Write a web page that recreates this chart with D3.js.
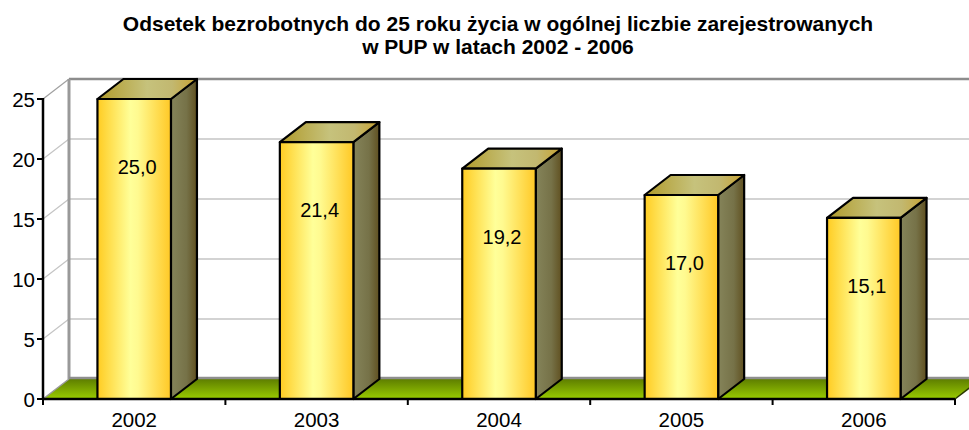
<!DOCTYPE html>
<html>
<head>
<meta charset="utf-8">
<script src="https://cdn.jsdelivr.net/npm/d3@7"></script>
<style>
  html, body { margin: 0; padding: 0; background: #fff; }
  svg { display: block; font-family: "Liberation Sans", Arial, sans-serif; }
</style>
</head>
<body>
<svg id="chart" width="969" height="430"></svg>
<script>
// ---- data ----
const titleLines = ["Odsetek bezrobotnych do 25 roku życia w ogólnej liczbie zarejestrowanych", "w PUP w latach 2002 - 2006"];
const categories = ["2002", "2003", "2004", "2005", "2006"];
const values = [25.0, 21.4, 19.2, 17.0, 15.1];
const yTicks = [0, 5, 10, 15, 20, 25];

// ---- layout ----
const W = 969, H = 430;
const mLeft = 43, mRight = 955, mBottom = 399, mTop = 99;
const dx = 26, dy = -20;

const svg = d3.select("#chart");
const defs = svg.append("defs");

const x = d3.scaleBand().domain(categories).range([mLeft, mRight]).paddingInner(0.597).paddingOuter(0.2985);
const step = (mRight - mLeft) / categories.length;
const y = d3.scaleLinear().domain([0, 25]).range([mBottom, mTop]);

// gradients
function hGrad(id, stops) {
  const g = defs.append("linearGradient").attr("id", id).attr("x1", "0").attr("x2", "1").attr("y1", "0").attr("y2", "0");
  stops.forEach(s => g.append("stop").attr("offset", s[0]).attr("stop-color", s[1]));
}
hGrad("front", [[0, "#FFCC22"], [0.45, "#FFFF99"], [0.55, "#FFFA90"], [1, "#FFC825"]]);
hGrad("topf", [[0, "#B09A2A"], [0.5, "#C6C27C"], [0.75, "#C2B870"], [1, "#C8A230"]]);
hGrad("side", [[0, "#85845A"], [0.6, "#767248"], [1, "#605020"]]);
const fg = defs.append("linearGradient").attr("id", "floor").attr("x1", "0").attr("x2", "0").attr("y1", "0").attr("y2", "1");
fg.append("stop").attr("offset", 0).attr("stop-color", "#5E7E00");
fg.append("stop").attr("offset", 1).attr("stop-color", "#9ACC00");

const line = d3.line();

// back wall gridlines + left wall diagonals
const grid = svg.append("g");
yTicks.filter(t => t > 0).forEach(t => {
  const yy = y(t);
  const col = t === 25 ? "#8C8C8C" : "#C4C4C4";
  const sw = t === 25 ? 2.5 : 1.6;
  grid.append("path").attr("d", line([[mLeft + dx, yy + dy], [W + 40, yy + dy]]))
    .attr("stroke", col).attr("stroke-width", sw).attr("fill", "none");
  grid.append("path").attr("d", line([[mLeft, yy], [mLeft + dx, yy + dy]]))
    .attr("stroke", t === 25 ? "#A0A0A0" : "#C4C4C4").attr("stroke-width", 1.2).attr("fill", "none");
});
// back wall left edge
grid.append("path").attr("d", line([[mLeft + dx, y(25) + dy], [mLeft + dx, y(0) + dy]]))
  .attr("stroke", "#999999").attr("stroke-width", 3).attr("fill", "none");

// floor
svg.append("path")
  .attr("d", line([[mLeft, y(0)], [mRight, y(0)], [mRight + dx, y(0) + dy], [mLeft + dx, y(0) + dy]]) + "Z")
  .attr("fill", "url(#floor)").attr("stroke", "none");
svg.append("path").attr("d", line([[mLeft + dx, y(0) + dy - 1], [W + 40, y(0) + dy - 1]]))
  .attr("stroke", "#8E8E8E").attr("stroke-width", 2.5).attr("fill", "none");
svg.append("path").attr("d", line([[mRight, y(0)], [mRight + dx, y(0) + dy]]))
  .attr("stroke", "#2A3A00").attr("stroke-width", 1.5).attr("fill", "none");
svg.append("path").attr("d", line([[mLeft, y(0)], [mLeft + dx, y(0) + dy]]))
  .attr("stroke", "#9A9A9A").attr("stroke-width", 1.5).attr("fill", "none");

// bars
const bars = svg.append("g").attr("stroke", "#000").attr("stroke-width", 2.2).attr("stroke-linejoin", "round");
categories.forEach((c, i) => {
  const x0 = x(c), x1 = x(c) + x.bandwidth();
  const yt = y(values[i]), yb = y(0);
  const g = bars.append("g");
  g.append("path").attr("d", line([[x1, yt], [x1 + dx, yt + dy], [x1 + dx, yb + dy], [x1, yb]]) + "Z").attr("fill", "url(#side)");
  g.append("path").attr("d", line([[x0, yt], [x0 + dx, yt + dy], [x1 + dx, yt + dy], [x1, yt]]) + "Z").attr("fill", "url(#topf)");
  g.append("path").attr("d", line([[x0, yt], [x1, yt], [x1, yb], [x0, yb]]) + "Z").attr("fill", "url(#front)");
});

// value labels
const fmt = v => d3.format(".1f")(v).replace(".", ",");
svg.append("g").selectAll("text").data(values).join("text")
  .attr("x", (d, i) => x(categories[i]) + x.bandwidth() / 2 + 3)
  .attr("y", d => y(d) + 68)
  .attr("text-anchor", "middle").attr("dominant-baseline", "central")
  .attr("font-size", 20).attr("fill", "#000")
  .text(fmt);

// y axis
const yAxis = svg.append("g");
yAxis.append("path").attr("d", line([[mLeft, y(25) - 1], [mLeft, y(0) + 1]])).attr("stroke", "#000").attr("stroke-width", 2.5);
yTicks.forEach(t => {
  yAxis.append("path").attr("d", line([[mLeft - 6, y(t)], [mLeft, y(t)]])).attr("stroke", "#000").attr("stroke-width", 2);
  yAxis.append("text").attr("x", mLeft - 8).attr("y", y(t)).attr("text-anchor", "end")
    .attr("dominant-baseline", "central").attr("font-size", 20.5).text(t);
});

// x axis
const xAxis = svg.append("g");
xAxis.append("path").attr("d", line([[mLeft, y(0)], [mRight, y(0)]])).attr("stroke", "#000").attr("stroke-width", 2.5);
d3.range(categories.length + 1).forEach(i => {
  const xx = mLeft + i * step;
  xAxis.append("path").attr("d", line([[xx, y(0)], [xx, y(0) + 6]])).attr("stroke", "#000").attr("stroke-width", 2);
});
categories.forEach(c => {
  xAxis.append("text").attr("x", x(c) + x.bandwidth() / 2).attr("y", 427)
    .attr("text-anchor", "middle").attr("font-size", 20.5).text(c);
});

// title
svg.append("g").selectAll("text").data(titleLines).join("text")
  .attr("x", 498).attr("y", (d, i) => 31 + i * 23)
  .attr("text-anchor", "middle").attr("font-weight", "bold").attr("font-size", 21)
  .text(d => d);
</script>
</body>
</html>
